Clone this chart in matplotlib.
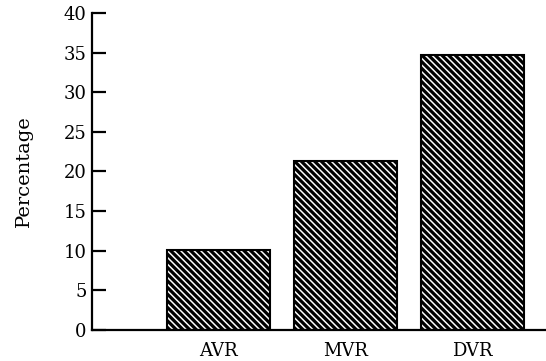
import matplotlib.pyplot as plt

categories = ['AVR', 'MVR', 'DVR']
values = [10.1, 21.3, 34.7]
positions = [1, 2, 3]

plt.rcParams['font.family'] = ['DejaVu Serif']
plt.rcParams['hatch.linewidth'] = 2.3
plt.rcParams['hatch.color'] = 'black'

fig = plt.figure(figsize=(5.46, 3.61), dpi=100)
ax = fig.add_axes([0.1685, 0.086, 0.8315, 0.878])

ax.bar(positions, values, width=0.81, color='white', edgecolor='black',
       hatch='\\' * 5, linewidth=1.5)

ax.set_xlim(0, 3.58)
ax.set_ylim(0, 40)
ax.set_yticks(range(0, 41, 5))
ax.set_xticks(positions)
ax.set_xticklabels(categories)
ax.set_ylabel('Percentage', fontsize=14, labelpad=22)

for s in ['top', 'right']:
    ax.spines[s].set_visible(False)
ax.spines['left'].set_linewidth(1.6)
ax.spines['bottom'].set_linewidth(1.6)
ax.tick_params(axis='y', direction='in', length=10, width=1.6, labelsize=13, pad=4)
ax.tick_params(axis='x', length=0, labelsize=13, pad=9)

plt.savefig('out.png', dpi=100)
